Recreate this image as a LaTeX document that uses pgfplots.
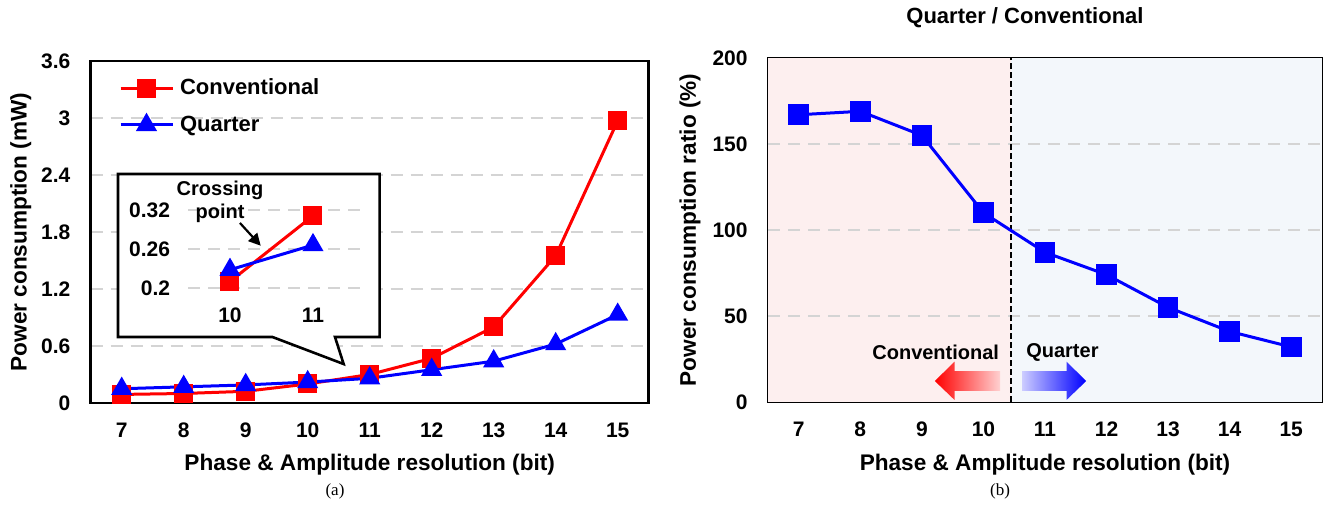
\documentclass[border=0pt]{standalone}
\usepackage{fontspec}
\setmainfont{Liberation Sans}
\newfontfamily\capfont{Liberation Serif}
\usepackage{pgfplots}
\pgfplotsset{compat=1.18}
\usetikzlibrary{arrows.meta}

\definecolor{mred}{RGB}{255,0,0}
\definecolor{mblue}{RGB}{0,0,255}
\definecolor{gridgray}{RGB}{212,212,212}
\definecolor{pinkbg}{RGB}{253,239,239}
\definecolor{bluebg}{RGB}{243,247,251}

\newcommand{\tickfont}{\fontsize{10.5}{12}\selectfont\bfseries}
\newcommand{\labfont}{\fontsize{11.3}{13}\selectfont\bfseries}

\pgfplotsset{
  panel/.style={
    scale only axis, anchor=south west,
    xmin=6.5, xmax=15.5, xtick={7,...,15},
    major tick length=0pt,
    axis line style={line width=1.3pt},
    grid style={gridgray, line width=1.1pt, dash pattern=on 6pt off 4pt},
    /pgf/number format/assume math mode=true,
    tick label style={font=\tickfont, inner sep=0pt},
    xticklabel style={anchor=center, yshift=-13.5pt},
    yticklabel style={anchor=east, xshift=-10pt},
    xlabel={Phase \& Amplitude resolution (bit)},
    legend image code/.code={\draw[mark repeat=2,mark phase=2,#1] plot coordinates {(0pt,0pt) (13pt,0pt) (26pt,0pt)};},
  },
  conv/.style={mred, line width=1.5pt, mark=square*, mark size=4pt, mark options={solid}},
  quar/.style={mblue, line width=1.5pt, mark=triangle*, mark size=4.6pt, mark options={solid}},
}

\begin{document}
\begin{tikzpicture}
\useasboundingbox (0,0) rectangle (665pt,253pt);

% (a) power consumption
\begin{axis}[panel, ymajorgrids,
  at={(45.35pt,51.5pt)}, width=279pt, height=171pt,
  ymin=0, ymax=3.6, ytick={0,0.6,1.2,1.8,2.4,3,3.6},
  ylabel={Power consumption (mW)},
  every axis y label/.style={at={(axis description cs:-0.1254,0.5)}, rotate=90, anchor=center, font=\labfont},
  every axis x label/.style={at={(axis description cs:0.5,-0.181)}, anchor=center, font=\labfont},
  legend style={draw=none, fill=none, at={(axis description cs:0.05,0.955)}, anchor=north west,
    font=\fontsize{11}{13}\selectfont\bfseries, row sep=7pt, inner sep=0pt,
    nodes={inner sep=1pt}},
  legend cell align=left,
  clip=false,
]
\addplot[conv] coordinates {(7,0.09) (8,0.10) (9,0.123) (10,0.20) (11,0.30) (12,0.47) (13,0.80) (14,1.55) (15,2.97)};
\addlegendentry{\hspace{2pt}Conventional}
\addplot[quar] coordinates {(7,0.15) (8,0.17) (9,0.19) (10,0.22) (11,0.26) (12,0.35) (13,0.44) (14,0.62) (15,0.93)};
\addlegendentry{\hspace{2pt}Quarter}
% callout box for the zoomed view
\draw[line width=1.3pt, fill=white] (axis cs:6.94,2.41) -- (axis cs:11.16,2.41) -- (axis cs:11.16,0.695)
  -- (axis cs:10.44,0.695) -- (axis cs:10.58,0.41) -- (axis cs:9.43,0.695) -- (axis cs:6.94,0.695) -- cycle;
\end{axis}

% zoomed view of the crossing point
\begin{axis}[
  scale only axis, anchor=south west,
  at={(94.25pt,102.5pt)}, width=87.15pt, height=52pt,
  xmin=9.5, xmax=11.6, ymin=0.18, ymax=0.34,
  xtick={10,11}, ytick={0.2,0.26,0.32}, yticklabels={0.2,0.26,0.32},
  axis line style={draw=none}, major tick length=0pt,
  ymajorgrids,
  grid style={gridgray, line width=1.1pt, dash pattern=on 6pt off 4pt},
  /pgf/number format/assume math mode=true,
  tick label style={font=\tickfont, inner sep=0pt},
  xticklabel style={anchor=center, yshift=-7pt},
  yticklabel style={anchor=east, xshift=-9pt},
  clip=false,
]
\addplot[conv] coordinates {(10,0.21) (11,0.311)};
\addplot[quar] coordinates {(10,0.228) (11,0.266)};
\node[font=\fontsize{10}{11.5}\selectfont\bfseries, align=center] at (axis cs:9.88,0.332) {Crossing\\point};
\draw[-{Triangle[length=6pt,width=6pt]}, line width=1.1pt] (axis cs:10.12,0.30) -- (axis cs:10.37,0.265);
\end{axis}

% (b) ratio
\begin{axis}[panel,
  at={(384pt,52pt)}, width=277pt, height=172pt,
  ymin=0, ymax=200, ytick={0,50,100,150,200},
  ylabel={Power consumption ratio (\%)},
  every axis y label/.style={at={(axis description cs:-0.1408,0.5)}, rotate=90, anchor=center, font=\labfont},
  every axis x label/.style={at={(axis description cs:0.5,-0.183)}, anchor=center, font=\labfont},
]
\fill[pinkbg] (axis cs:6.5,0) rectangle (axis cs:10.45,200);
\fill[bluebg] (axis cs:10.45,0) rectangle (axis cs:15.5,200);
\foreach \g in {50,100,150} {
  \edef\tmp{\noexpand\draw[gridgray, line width=1.1pt, dash pattern=on 6pt off 4pt] (axis cs:6.5,\g) -- (axis cs:15.5,\g);}\tmp
}
\draw[black, line width=1pt, dash pattern=on 3pt off 1.5pt] (axis cs:10.45,0) -- (axis cs:10.45,200);
\shade[left color=mred, right color=mred!18] (axis cs:9.21,12.2) -- (axis cs:9.53,23.4) -- (axis cs:9.53,18)
  -- (axis cs:10.27,18) -- (axis cs:10.27,6.4) -- (axis cs:9.53,6.4) -- (axis cs:9.53,1.2) -- cycle;
\shade[left color=mblue!20, right color=mblue] (axis cs:10.63,18) -- (axis cs:11.35,18) -- (axis cs:11.35,23.4)
  -- (axis cs:11.67,12.2) -- (axis cs:11.35,1.2) -- (axis cs:11.35,6.4) -- (axis cs:10.63,6.4) -- cycle;
\node[font=\fontsize{10}{11.5}\selectfont\bfseries, anchor=east, inner sep=0pt] at (axis cs:10.26,29) {Conventional};
\node[font=\fontsize{10}{11.5}\selectfont\bfseries, anchor=west, inner sep=0pt] at (axis cs:10.69,29) {Quarter};
\addplot[mblue, line width=1.5pt, mark=square*, mark size=4.4pt] coordinates {(7,167) (8,169) (9,155) (10,110) (11,87) (12,74) (13,55) (14,41) (15,32)};
\end{axis}

\node[font=\fontsize{11}{13}\selectfont\bfseries] at (512.5pt,244pt) {Quarter / Conventional};
\node[font=\capfont\fontsize{8.5}{10}\selectfont] at (167.5pt,7.5pt) {(a)};
\node[font=\capfont\fontsize{8.5}{10}\selectfont] at (500pt,7.5pt) {(b)};
\end{tikzpicture}
\end{document}
